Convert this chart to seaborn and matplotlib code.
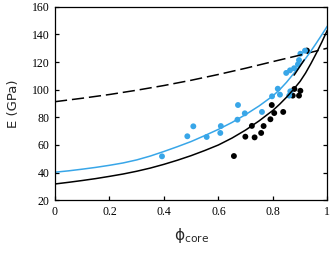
import numpy as np
import pandas as pd
import matplotlib
matplotlib.use("Agg")
import matplotlib.pyplot as plt
import seaborn as sns

# 측정값 (파란색 / 검은색)
phi_blue = [0.393, 0.486, 0.508, 0.557, 0.609, 0.607, 0.672, 0.670, 0.697, 0.760,
            0.797, 0.818, 0.826, 0.849, 0.863, 0.878, 0.892, 0.896, 0.901, 0.918,
            0.860, 0.864]
E_blue = [51.8, 66.3, 73.5, 65.8, 73.7, 68.7, 88.9, 78.3, 82.9, 83.9,
          95.2, 100.7, 96.4, 112.1, 114.0, 115.5, 118.3, 121.4, 126.0, 128.2,
          95.7, 98.8]

phi_black = [0.657, 0.699, 0.733, 0.723, 0.757, 0.766, 0.791, 0.796, 0.805, 0.838,
             0.873, 0.879, 0.896, 0.901, 0.925]
E_black = [52.0, 66.0, 65.5, 73.8, 68.7, 73.7, 78.6, 88.9, 83.1, 83.9,
           95.7, 100.5, 95.7, 99.2, 128.3]

# 피팅 곡선
phi_fit = [0, 0.05, 0.1, 0.15, 0.2, 0.25, 0.3, 0.35, 0.4, 0.45, 0.5, 0.55, 0.6, 0.65,
           0.7, 0.75, 0.8, 0.825, 0.85, 0.875, 0.9, 0.92, 0.94, 0.96, 0.98, 1.0]
E_fit_blue = [40.3, 41.3, 42.5, 43.8, 45.3, 47.0, 49.2, 52.0, 55.3, 58.8, 62.5, 66.8, 71.3, 76.3,
              82.0, 88.3, 95.5, 100.0, 105.3, 111.3, 117.5, 122.5, 128.0, 133.8, 139.8, 146.0]
E_fit_black = [31.8, 33.0, 34.3, 35.7, 37.3, 39.0, 41.0, 43.3, 46.0, 49.0, 52.3, 56.0, 60.0, 65.0,
               70.8, 77.5, 85.0, 89.5, 94.5, 100.0, 106.0, 112.0, 119.0, 126.5, 134.5, 143.0]

phi_dash = [0, 0.1, 0.2, 0.3, 0.4, 0.5, 0.6, 0.7, 0.8, 0.9, 1.0]
E_dash = [91.3, 93.8, 96.5, 99.6, 103.0, 106.8, 111.0, 115.5, 120.3, 125.0, 130.0]

phi_seg = [0.878, 0.915]
E_seg = [110.5, 121.5]

x_ticks = [0, 0.2, 0.4, 0.6, 0.8, 1.0]
x_labels = ['0', '0.2', '0.4', '0.6', '0.8', '1']
y_ticks = [20, 40, 60, 80, 100, 120, 140, 160]

blue = '#38a6e8'

sns.set_theme(style='white')
plt.rcParams['font.family'] = ['DejaVu Sans']
plt.rcParams['mathtext.fontset'] = 'dejavusans'

fig = plt.figure(figsize=(3.33, 2.56), dpi=100)
ax = fig.add_axes([0.165, 0.2176, 0.818, 0.7562])

sns.lineplot(x=phi_dash, y=E_dash, ax=ax, color='black', lw=1.1)
ax.lines[-1].set_linestyle((0, (8, 3.2)))
sns.lineplot(x=phi_fit, y=E_fit_black, ax=ax, color='black', lw=1.1)
sns.lineplot(x=phi_fit, y=E_fit_blue, ax=ax, color=blue, lw=1.1)
sns.lineplot(x=phi_seg, y=E_seg, ax=ax, color='black', lw=1.1)

sns.scatterplot(x=phi_black, y=E_black, ax=ax, color='black', s=18, edgecolor='none')
sns.scatterplot(x=phi_blue, y=E_blue, ax=ax, color=blue, s=18, edgecolor='none')

ax.set_xlim(0, 1)
ax.set_ylim(20, 160)
ax.set_xticks(x_ticks)
ax.set_xticklabels(x_labels)
ax.set_yticks(y_ticks)
ax.set_yticklabels([str(v) for v in y_ticks])
ax.tick_params(direction='in', length=3, width=0.9, right=True, left=True, bottom=True,
               colors='black', pad=4, labelsize=8.5, labelfontfamily='Liberation Serif')

for sp in ax.spines.values():
    sp.set_color('black')
    sp.set_linewidth(0.9)

ax.set_xlabel('ϕ$_{\\mathrm{core}}$', fontsize=11, labelpad=6)
ax.set_ylabel('E (GPa)', fontsize=9.5, labelpad=8)

fig.savefig('out.png', dpi=100)
